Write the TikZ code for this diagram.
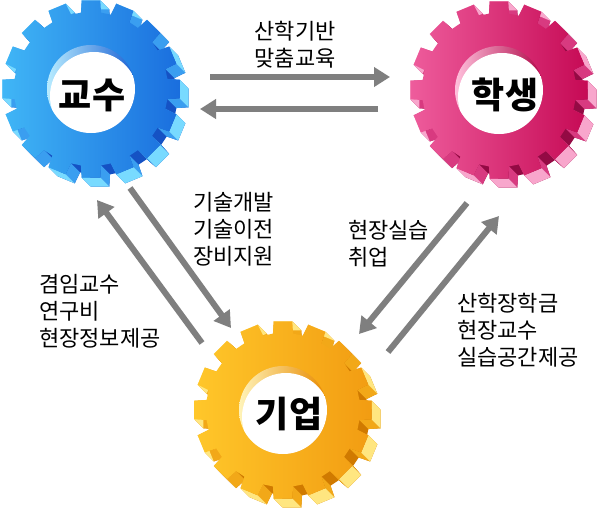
\documentclass[tikz,border=0pt]{standalone}
\usepackage{fontspec}
\newfontfamily\kr{Noto Sans CJK KR}
\usetikzlibrary{arrows.meta}
% blue
\definecolor{bfl}{HTML}{40B6F6}\definecolor{bfr}{HTML}{1A6EDE}
\definecolor{bgap}{HTML}{1552C4}\definecolor{bflank}{HTML}{3A9EF0}\definecolor{btip}{HTML}{78DAFF}
\definecolor{bwl}{HTML}{B8ECFF}\definecolor{bwr}{HTML}{1C62D4}
% pink
\definecolor{pfl}{HTML}{EE5C9C}\definecolor{pfr}{HTML}{C60A55}
\definecolor{pgap}{HTML}{940A44}\definecolor{pflank}{HTML}{D83A80}\definecolor{ptip}{HTML}{F8A6CC}
\definecolor{pwl}{HTML}{FFC0DC}\definecolor{pwr}{HTML}{B00848}
% orange
\definecolor{ofl}{HTML}{FFC72A}\definecolor{ofr}{HTML}{F29C12}
\definecolor{ogap}{HTML}{D07A00}\definecolor{oflank}{HTML}{F2A818}\definecolor{otip}{HTML}{FFE680}
\definecolor{owl}{HTML}{FFF3B8}\definecolor{owr}{HTML}{E88A00}
\definecolor{arrowgray}{HTML}{7F7F7F}
\newcommand\gRo{89}
\newcommand\gRi{77}
\newcommand\gTh{6}   % tip half angle
\newcommand\gRh{7.5} % root half angle
\newcommand\gD{9}    % depth
\newcommand\gearpath{(-\gRh:\gRi) foreach \t in {0,22.5,...,337.5}{ -- (\t-\gRh:\gRi) -- (\t-\gTh:\gRo) -- (\t+\gTh:\gRo) -- (\t+\gRh:\gRi)} -- cycle}
\newcommand\drawgear[3]{%
\begin{scope}[shift={(#1,#2)}]
  \foreach \k in {9,8,...,1}{\fill[#3gap, shift={(\k,\k)}] \gearpath;}
  \foreach \a in {0,22.5,...,337.5}{
    \fill[#3flank] (\a-\gRh:\gRi) -- (\a-\gTh:\gRo) -- ([shift={(\gD,\gD)}]\a-\gTh:\gRo) -- ([shift={(\gD,\gD)}]\a-\gRh:\gRi) -- cycle;
    \fill[#3flank] (\a+\gTh:\gRo) -- (\a+\gRh:\gRi) -- ([shift={(\gD,\gD)}]\a+\gRh:\gRi) -- ([shift={(\gD,\gD)}]\a+\gTh:\gRo) -- cycle;
  }
  \foreach \a in {0,22.5,...,337.5}{
    \fill[#3tip] (\a-\gTh:\gRo) -- (\a+\gTh:\gRo) -- ([shift={(\gD,\gD)}]\a+\gTh:\gRo) -- ([shift={(\gD,\gD)}]\a-\gTh:\gRo) -- cycle;
  }
  \shade[left color=#3fl, right color=#3fr] \gearpath;
  \shade[left color=#3wl, right color=#3wr] (0,0) circle (44);
  \begin{scope}\clip (0,0) circle (44);\fill[white] (3,7) circle (44);\end{scope}
\end{scope}}
\tikzset{
  gearlabel/.style={font=\kr\bfseries\fontsize{36}{40}\selectfont, inner sep=0pt, text=black},
  txt/.style={font=\kr\fontsize{22}{27}\selectfont, inner sep=0pt, text=black},
  flow/.style={draw=arrowgray, line width=6pt, -{Triangle[length=16pt,width=19pt]}},
}
\begin{document}
\begin{tikzpicture}[x=1pt,y=-1pt]
\useasboundingbox[fill=white] (0,0) rectangle (600,512);
\drawgear{91}{89}{b}
\drawgear{499}{90}{p}
\drawgear{283}{410}{o}
\node[gearlabel] (prof) at (92,95) {교수};
\node[gearlabel] (stud) at (505,95) {학생};
\node[gearlabel] (comp) at (289,414) {기업};
\node[txt, align=center] (t1) at (295,45) {산학기반\\맞춤교육};
\node[txt, align=left, anchor=west] (t2) at (193,229.5) {기술개발\\기술이전\\장비지원};
\node[txt, align=left, anchor=west] (t3) at (348,243.5) {현장실습\\취업};
\node[txt, align=left, anchor=west] (t4) at (39,311.5) {겸임교수\\연구비\\현장정보제공};
\node[txt, align=left, anchor=west] (t5) at (457,330.5) {산학장학금\\현장교수\\실습공간제공};
% arrow end points
\coordinate (a1s) at (210,77);  \coordinate (a1e) at (390,77);
\coordinate (a2s) at (378,109); \coordinate (a2e) at (200,109);
\coordinate (a3s) at (130,188); \coordinate (a3e) at (231,328);
\coordinate (a4s) at (202,343); \coordinate (a4e) at (97,200);
\coordinate (a5s) at (467,203); \coordinate (a5e) at (359,334);
\coordinate (a6s) at (388,352); \coordinate (a6e) at (499,216);
\draw[flow] (a1s) -- (a1e);
\draw[flow] (a2s) -- (a2e);
\draw[flow] (a3s) -- (a3e);
\draw[flow] (a4s) -- (a4e);
\draw[flow] (a5s) -- (a5e);
\draw[flow] (a6s) -- (a6e);
\end{tikzpicture}
\end{document}
